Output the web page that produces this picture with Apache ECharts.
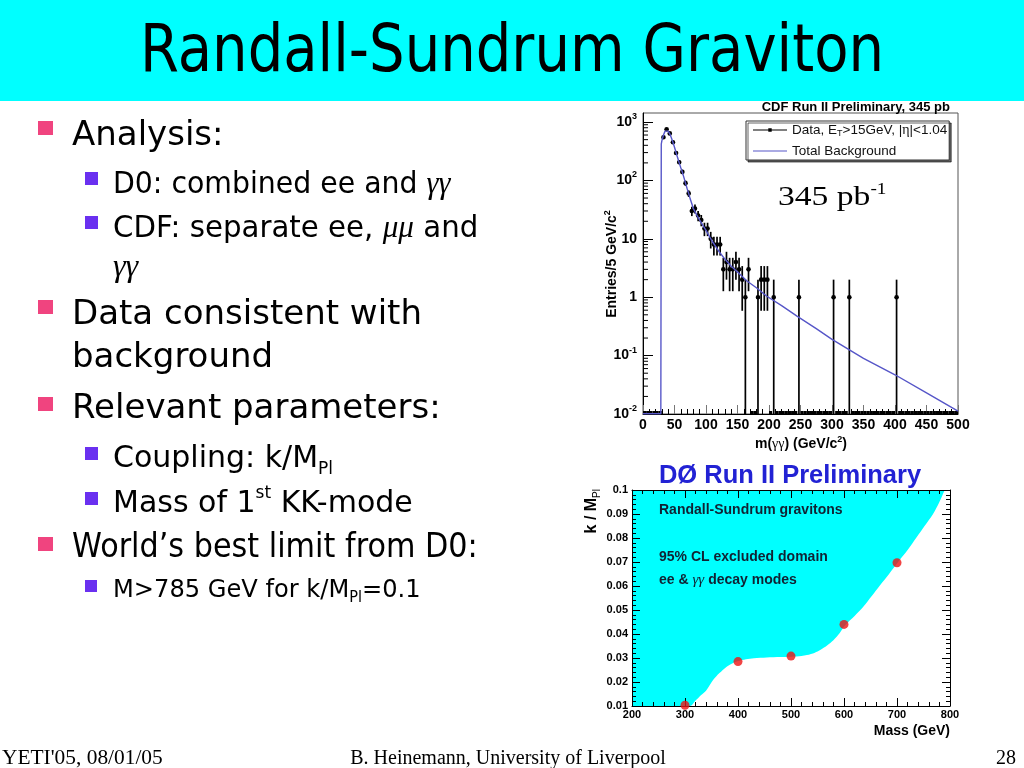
<!DOCTYPE html>
<html><head><meta charset="utf-8">
<script src="https://cdn.jsdelivr.net/npm/echarts@6/dist/echarts.min.js"></script>
<style>html,body{margin:0;padding:0;background:#fff}#c{width:1024px;height:768px}</style>
</head><body><div id="c"></div><script>
// ---------- CDF diphoton mass spectrum (5 GeV bins starting at 0) ----------
const cdfBinWidth = 5;
const cdfCounts = [
  0,0,0,0,0,0,550,750,640,450,
  295,205,140,90,60,30,33,25,21,15,
  15,10,8,8,8,3,4,3,3,4,
  3,2,1,3,0,0,1,2,2,2,
  0,1,0,0,0,0,0,0,0,1,
  0,0,0,0,0,0,0,0,0,0,
  1,0,0,0,0,1,0,0,0,0,
  0,0,0,0,0,0,0,0,0,0,
  1,0,0,0,0,0,0,0,0,0,
  0,0,0,0,0,0,0,0,0,0
];
const bgMass  = [0, 28.3, 29, 30, 32.5, 35, 37.5, 40, 42.5, 45, 47.5, 50, 52.5, 55, 57.5, 60, 62.5, 65, 67.5, 70, 72.5, 75, 80, 85, 90, 95, 100, 110, 120, 130, 140, 150, 165, 180, 196, 220, 245, 275, 300, 350, 400, 450, 500];
const bgValue = [0.0101, 0.0101, 420, 480, 600, 700, 740, 700, 630, 540, 450, 370, 300, 245, 200, 165, 138, 112, 90, 73, 60, 48, 33, 26, 21, 17, 14, 9, 6.2, 4.5, 3.4, 2.7, 1.9, 1.45, 1.05, 0.72, 0.47, 0.29, 0.19, 0.09, 0.047, 0.023, 0.0112];
const cdfYMin = 0.01, cdfYMax = 1430;

// ---------- D0 exclusion in (mass, k/MPl) ----------
const d0BoundaryMass = [200, 309, 320, 330, 340, 353, 365, 378, 390, 400, 415, 430, 454, 480, 500, 520, 530, 545, 555, 568, 580, 592, 602, 620, 636, 652, 668, 685, 702, 720, 737, 752, 768, 780, 790];
const d0BoundaryK    = [0.01, 0.01, 0.0123, 0.0145, 0.0165, 0.0208, 0.0237, 0.0263, 0.0278, 0.0287, 0.0295, 0.0299, 0.0302, 0.0304, 0.0305, 0.0308, 0.0312, 0.0322, 0.0333, 0.0352, 0.0374, 0.0404, 0.0436, 0.0475, 0.0512, 0.0557, 0.0603, 0.065, 0.07, 0.075, 0.0803, 0.085, 0.09, 0.095, 0.1];
const d0PointMass = [300, 400, 500, 600, 700];
const d0PointK    = [0.0103, 0.0285, 0.0308, 0.044, 0.0697];

// minor log ticks 2..9 per decade
const cdfMinorTicks = [];
for (let d = -2; d <= 2; d++) for (let k = 2; k <= 9; k++) cdfMinorTicks.push(+(k * Math.pow(10, d)).toPrecision(3));

const sans = "'Liberation Sans', Arial, sans-serif";
const serif = "'Liberation Serif', 'Times New Roman', serif";
const body = "'DejaVu Sans', sans-serif";

const chart = echarts.init(document.getElementById('c'), null, {width: 1024, height: 768});

const G = [];
function txt(x, y, text, style, extra) {
  const s = Object.assign({text: text, fill: '#000', align: 'left', textAlign: 'left', verticalAlign: 'middle', textVerticalAlign: 'middle'}, style);
  if (s.align) s.textAlign = s.align;
  G.push(Object.assign({type: 'text', x: x, y: y, z: 50, silent: true, style: s}, extra || {}));
}
function box(x, y, w, h, color) {
  G.push({type: 'rect', z: 50, silent: true, shape: {x: x, y: y, width: w, height: h}, style: {fill: color}});
}

// title bar
G.push({type: 'rect', z: 1, silent: true, shape: {x: 0, y: 0, width: 1024, height: 101}, style: {fill: '#00ffff'}});
txt(512, 54, 'Randall-Sundrum Graviton', {align: 'center', fontFamily: body, fontSize: 66}, {scaleX: 0.85});

// bullets
const pink = '#f0447f', purple = '#6a30f0';
const L1 = {fontFamily: body, fontSize: 34};
const richL2 = {
  a: {fontFamily: body, fontSize: 30, lineHeight: 38},
  g: {fontFamily: serif, fontSize: 32, fontStyle: 'italic', lineHeight: 38},
  sub: {fontFamily: body, fontSize: 17, lineHeight: 17, verticalAlign: 'bottom'},
  sup: {fontFamily: body, fontSize: 17, lineHeight: 17, verticalAlign: 'top'}
};
const richL3 = {
  a: {fontFamily: body, fontSize: 25, lineHeight: 32},
  sub: {fontFamily: body, fontSize: 15, lineHeight: 15, verticalAlign: 'bottom'}
};
box(38, 121, 15, 14, pink); txt(72, 136, 'Analysis:', L1);
box(85, 172, 13, 13, purple); txt(113, 185, '{a|D0: combined ee and }{g|γγ}', {rich: richL2}, {scaleX: 0.945});
box(85, 216, 13, 13, purple); txt(113, 229, '{a|CDF: separate ee, }{g|μμ}{a| and}', {rich: richL2}, {scaleX: 0.975});
txt(113, 268, '{g|γγ}', {rich: richL2});
box(38, 300, 15, 14, pink); txt(72, 315, 'Data consistent with', L1);
txt(72, 358, 'background', L1);
box(38, 397, 15, 14, pink); txt(72, 409, 'Relevant parameters:', L1);
box(85, 447, 13, 13, purple); txt(113, 459, '{a|Coupling: k/M}{sub|Pl}', {rich: richL2});
box(85, 492, 13, 13, purple); txt(113, 504, '{a|Mass of 1}{sup|st}{a| KK-mode}', {rich: richL2});
box(38, 537, 15, 14, pink); txt(72, 548, 'World’s best limit from D0:', L1, {scaleX: 0.89});
box(85, 580, 12, 12, purple); txt(113, 590, '{a|M>785 GeV for k/M}{sub|Pl}{a|=0.1}', {rich: richL3}, {scaleX: 0.965});

// footer
txt(2, 759, "YETI'05, 08/01/05", {fontFamily: serif, fontSize: 20}, {scaleX: 1.07});
txt(508, 759, 'B. Heinemann, University of Liverpool', {fontFamily: serif, fontSize: 20, align: 'center'});
txt(1016, 759, '28', {fontFamily: serif, fontSize: 20, align: 'right'});

// CDF texts
txt(950, 107, 'CDF Run II Preliminary, 345 pb', {fontFamily: sans, fontWeight: 'bold', fontSize: 13, align: 'right'});
txt(778, 198, '{a|345 pb}{s|-1}', {rich: {a: {fontFamily: serif, fontSize: 28, lineHeight: 32}, s: {fontFamily: serif, fontSize: 16, lineHeight: 16, verticalAlign: 'top'}}}, {scaleX: 1.2});
txt(801, 444, '{a|m(}{g|γγ}{a|) (GeV/c}{s|2}{a|)}', {align: 'center', rich: {a: {fontFamily: sans, fontWeight: 'bold', fontSize: 14, lineHeight: 18}, g: {fontFamily: serif, fontSize: 14, lineHeight: 18}, s: {fontFamily: sans, fontWeight: 'bold', fontSize: 9, lineHeight: 9, verticalAlign: 'top'}}});
txt(612, 264, '{a|Entries/5 GeV/c}{s|2}', {align: 'center', rich: {a: {fontFamily: sans, fontWeight: 'bold', fontSize: 14, lineHeight: 18}, s: {fontFamily: sans, fontWeight: 'bold', fontSize: 9, lineHeight: 9, verticalAlign: 'top'}}}, {rotation: Math.PI / 2});

// D0 texts
txt(790, 476, 'DØ Run II Preliminary', {fontFamily: sans, fontWeight: 'bold', fontSize: 25.5, align: 'center', fill: '#2222d4'});
const d0t = {fontFamily: sans, fontWeight: 'bold', fontSize: 14, fill: '#123'};
txt(659, 510, 'Randall-Sundrum gravitons', d0t);
txt(659, 557, '95% CL excluded domain', d0t);
txt(659, 580, '{a|ee & }{g|γγ}{a| decay modes}', {rich: {a: d0t, g: {fontFamily: serif, fontStyle: 'italic', fontSize: 15, fill: '#123'}}});
txt(950, 731, 'Mass (GeV)', {fontFamily: sans, fontWeight: 'bold', fontSize: 14, align: 'right'});
txt(592, 489, '{a|k / M}{s|Pl}', {align: 'right', rich: {a: {fontFamily: sans, fontWeight: 'bold', fontSize: 16, lineHeight: 20}, s: {fontFamily: sans, fontSize: 10, lineHeight: 10, verticalAlign: 'bottom'}}}, {rotation: Math.PI / 2});

const cdfData = cdfCounts.map((n, i) => [cdfBinWidth * i + cdfBinWidth / 2, Math.max(n, cdfYMin), n]);
const bgData = bgMass.map((m, i) => [m, bgValue[i]]);

const axisBlack = {lineStyle: {color: '#000', width: 1}};

const option = {
  animation: false,
  backgroundColor: '#fff',
  graphic: G,
  grid: [
    {left: 643, top: 113, width: 315, height: 301, show: true, borderColor: '#555', borderWidth: 1, backgroundColor: 'transparent'},
    {left: 632, top: 490, width: 318, height: 216, show: false}
  ],
  legend: {
    left: 746, top: 121, orient: 'vertical', itemWidth: 34, itemHeight: 14, itemGap: 6,
    padding: [2, 2, 2, 7], borderColor: '#333', borderWidth: 1, backgroundColor: '#fff',
    shadowColor: 'rgba(0,0,0,0.6)', shadowOffsetX: 2, shadowOffsetY: 2, shadowBlur: 0,
    selectedMode: false,
    data: [
      {name: 'Data', icon: 'path://M0,9.3L40,9.3L40,10.7L0,10.7Z M18,8L22,8L22,12L18,12Z'},
      {name: 'Total Background', icon: 'path://M0,9.3L40,9.3L40,10.7L0,10.7Z'}
    ],
    formatter: name => name === 'Data' ? '{a|Data, E}{s|T}{a|>15GeV, |}{g|η}{a||<1.04}' : '{a|Total Background}',
    textStyle: {fontFamily: sans, fontSize: 13.5, color: '#111', rich: {
      a: {fontFamily: sans, fontSize: 13.5, color: '#111', lineHeight: 16},
      s: {fontFamily: sans, fontSize: 9, color: '#111', lineHeight: 9, verticalAlign: 'bottom'},
      g: {fontFamily: serif, fontSize: 14, color: '#111', lineHeight: 16}
    }}
  },
  xAxis: [
    {gridIndex: 0, type: 'value', min: 0, max: 500, interval: 50, axisLine: axisBlack,
     axisTick: {inside: true, length: 9, lineStyle: {color: '#777'}},
     minorTick: {show: true, splitNumber: 5, length: 5, lineStyle: {color: '#000'}},
     splitLine: {show: false},
     axisLabel: {fontFamily: sans, fontWeight: 'bold', fontSize: 14, color: '#000', margin: 4}},
    {gridIndex: 1, type: 'value', min: 200, max: 800, interval: 100, z: 5, axisLine: axisBlack,
     axisTick: {inside: true, length: 8, lineStyle: {color: '#000'}},
     minorTick: {show: true, splitNumber: 5, length: 4, lineStyle: {color: '#000'}},
     splitLine: {show: false},
     axisLabel: {fontFamily: sans, fontWeight: 'bold', fontSize: 11, color: '#000', margin: 3}},
    {gridIndex: 1, type: 'value', position: 'top', min: 200, max: 800, interval: 100, z: 5, axisLine: axisBlack,
     axisTick: {inside: true, length: 8, lineStyle: {color: '#000'}},
     minorTick: {show: true, splitNumber: 5, length: 4, lineStyle: {color: '#000'}},
     splitLine: {show: false}, axisLabel: {show: false}}
  ],
  yAxis: [
    {gridIndex: 0, type: 'log', logBase: 10, min: cdfYMin, max: cdfYMax, axisLine: axisBlack,
     axisTick: {inside: true, length: 10, lineStyle: {color: '#000'}},
     splitLine: {show: false},
     axisLabel: {margin: 6, showMaxLabel: false, formatter: v => {
        const n = Math.round(Math.log10(v));
        if (n === 0) return '{b|1}';
        if (n === 1) return '{b|10}';
        return '{b|10}{s|' + n + '}';
      }, rich: {
        b: {fontFamily: sans, fontWeight: 'bold', fontSize: 14, color: '#000', lineHeight: 20},
        s: {fontFamily: sans, fontWeight: 'bold', fontSize: 9, color: '#000', lineHeight: 10, verticalAlign: 'top'}
      }}},
    {gridIndex: 1, type: 'value', min: 0.01, max: 0.1, interval: 0.01, z: 5, axisLine: axisBlack,
     axisTick: {inside: true, length: 8, lineStyle: {color: '#000'}},
     minorTick: {show: true, splitNumber: 5, length: 4, lineStyle: {color: '#000'}},
     splitLine: {show: false},
     axisLabel: {fontFamily: sans, fontWeight: 'bold', fontSize: 11, color: '#000', margin: 4,
       formatter: v => Math.abs(v - 0.1) < 1e-9 ? '0.1' : v.toFixed(2)}},
    {gridIndex: 1, type: 'value', position: 'right', min: 0.01, max: 0.1, interval: 0.01, z: 5, axisLine: axisBlack,
     axisTick: {inside: true, length: 8, lineStyle: {color: '#000'}},
     minorTick: {show: true, splitNumber: 5, length: 4, lineStyle: {color: '#000'}},
     splitLine: {show: false}, axisLabel: {show: false}}
  ],
  series: [
    {name: 'Data', type: 'custom', xAxisIndex: 0, yAxisIndex: 0, z: 3, silent: true,
     itemStyle: {color: '#000'},
     encode: {x: 0, y: 1},
     data: cdfData,
     renderItem: (params, api) => {
       const x = api.value(0), n = api.value(2);
       const ch = [];
       if (n > 0) {
         const e = Math.sqrt(n);
         const p = api.coord([x, n]);
         const lo = api.coord([x, Math.max(n - e, cdfYMin)]);
         const hi = api.coord([x, n + e]);
         const l = api.coord([x - cdfBinWidth / 2, n]);
         const r = api.coord([x + cdfBinWidth / 2, n]);
         ch.push({type: 'line', shape: {x1: p[0], y1: lo[1], x2: p[0], y2: hi[1]}, style: {stroke: '#000', lineWidth: 1.7}});
         ch.push({type: 'line', shape: {x1: l[0], y1: p[1], x2: r[0], y2: p[1]}, style: {stroke: '#000', lineWidth: 1.5}});
         ch.push({type: 'circle', shape: {cx: p[0], cy: p[1], r: 2.3}, style: {fill: '#000'}});
       } else {
         const l = api.coord([x - cdfBinWidth / 2, cdfYMin]);
         const r = api.coord([x + cdfBinWidth / 2, cdfYMin]);
         ch.push({type: 'line', shape: {x1: l[0], y1: l[1] - 1.5, x2: r[0], y2: r[1] - 1.5}, style: {stroke: '#000', lineWidth: 3}});
       }
       return {type: 'group', children: ch};
     }},
    {name: 'Total Background', type: 'line', xAxisIndex: 0, yAxisIndex: 0, z: 4, silent: true,
     data: bgData, showSymbol: false, symbol: 'none',
     itemStyle: {color: '#5656c8'}, lineStyle: {color: '#5656c8', width: 1.4}},
    {name: 'minorTicks', type: 'custom', xAxisIndex: 0, yAxisIndex: 0, z: 5, silent: true,
     encode: {x: 0, y: 1},
     data: cdfMinorTicks.map(v => [0, v]),
     renderItem: (params, api) => {
       const c = api.coord([api.value(0), api.value(1)]);
       return {type: 'line', shape: {x1: c[0], y1: c[1], x2: c[0] + 5, y2: c[1]}, style: {stroke: '#000', lineWidth: 1}};
     }},
    {name: 'excluded', type: 'line', xAxisIndex: 1, yAxisIndex: 1, z: 1, silent: true,
     data: d0BoundaryMass.map((m, i) => [m, d0BoundaryK[i]]),
     showSymbol: false, symbol: 'none', smooth: 0.3,
     lineStyle: {width: 0, color: '#00ffff'},
     areaStyle: {color: '#00ffff', opacity: 1, origin: 'end'}},
    {name: 'limits', type: 'scatter', xAxisIndex: 1, yAxisIndex: 1, z: 6, silent: true,
     data: d0PointMass.map((m, i) => [m, d0PointK[i]]),
     symbolSize: 9, itemStyle: {color: '#ee1414'}}
  ]
};
chart.setOption(option);
</script></body></html>
